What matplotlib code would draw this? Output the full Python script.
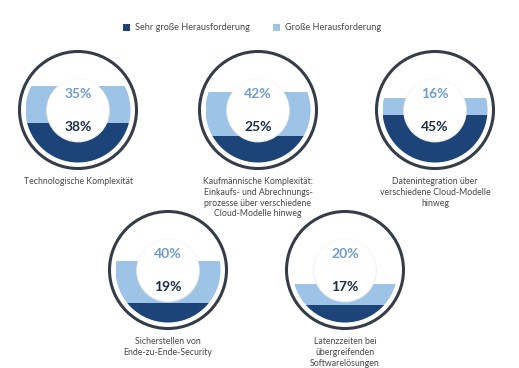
import matplotlib
matplotlib.use("Agg")
import matplotlib.pyplot as plt
from matplotlib.patches import Circle, Rectangle

categories = [
    "Technologische Komplexität",
    "Kaufmännische Komplexität:\nEinkaufs- und Abrechnungs-\nprozesse über verschiedene\nCloud-Modelle hinweg",
    "Datenintegration über\nverschiedene Cloud-Modelle\nhinweg",
    "Sicherstellen von\nEnde-zu-Ende-Security",
    "Latenzzeiten bei\nübergreifenden\nSoftwarelösungen",
]
sehr_gross = [38, 25, 45, 19, 17]
gross = [35, 42, 16, 40, 20]
series_names = ["Sehr große Herausforderung", "Große Herausforderung"]

DARK = "#1d4479"
LIGHT = "#9dc3e6"
RING = "#343d48"
TXT_LIGHT = "#6e9ccb"
TXT_DARK = "#1a2d4c"
LABEL = "#474747"

W, H = 519, 368
fig = plt.figure(figsize=(W / 100, H / 100), dpi=100)
ax = fig.add_axes([0, 0, 1, 1])
ax.set_xlim(0, W)
ax.set_ylim(H, 0)
ax.set_aspect("equal")
ax.axis("off")

centers = [(78, 110), (258, 110), (435, 110), (168, 270), (345, 270)]
R_RING = 58.5
R_FILL = 52.5
R_WHITE = 31

for i, (cx, cy) in enumerate(centers):
    ring = Circle((cx, cy), R_RING, fill=False, edgecolor=RING, lw=2.2, zorder=2)
    ax.add_patch(ring)
    clip = Circle((cx, cy), R_FILL, transform=ax.transData)
    bottom = cy + R_FILL
    h_dark = sehr_gross[i] / 100 * 2 * R_FILL
    h_light = gross[i] / 100 * 2 * R_FILL
    rd = Rectangle((cx - R_FILL, bottom - h_dark), 2 * R_FILL, h_dark,
                   facecolor=DARK, edgecolor="none", zorder=3)
    rl = Rectangle((cx - R_FILL, bottom - h_dark - h_light), 2 * R_FILL, h_light,
                   facecolor=LIGHT, edgecolor="none", zorder=3)
    ax.add_patch(rd)
    ax.add_patch(rl)
    rd.set_clip_path(clip)
    rl.set_clip_path(clip)
    # inner white circle with faint shadow
    ax.add_patch(Circle((cx, cy + 0.6), R_WHITE + 0.8, facecolor="#ececec",
                        edgecolor="none", zorder=4))
    ax.add_patch(Circle((cx, cy), R_WHITE, facecolor="white",
                        edgecolor="none", zorder=5))
    ax.text(cx, cy - 16, f"{gross[i]}%", ha="center", va="center",
            fontsize=10, fontweight="bold", color=TXT_LIGHT, zorder=6,
            family="Lato")
    ax.text(cx, cy + 17, f"{sehr_gross[i]}%", ha="center", va="center",
            fontsize=10, fontweight="bold", color=TXT_DARK, zorder=6,
            family="Lato")
    ax.text(cx, cy + 67, categories[i], ha="center", va="top",
            fontsize=6.3, color=LABEL, linespacing=1.25, family="Lato")

# legend
ax.add_patch(Rectangle((123, 23.5), 7, 7, facecolor=DARK, edgecolor="none"))
ax.text(135, 27, series_names[0], ha="left", va="center", fontsize=6.6,
        color=LABEL, family="Lato")
ax.add_patch(Rectangle((273, 23.5), 7, 7, facecolor=LIGHT, edgecolor="none"))
ax.text(285, 27, series_names[1], ha="left", va="center", fontsize=6.6,
        color=LABEL, family="Lato")

fig.savefig("out.png", dpi=100)
